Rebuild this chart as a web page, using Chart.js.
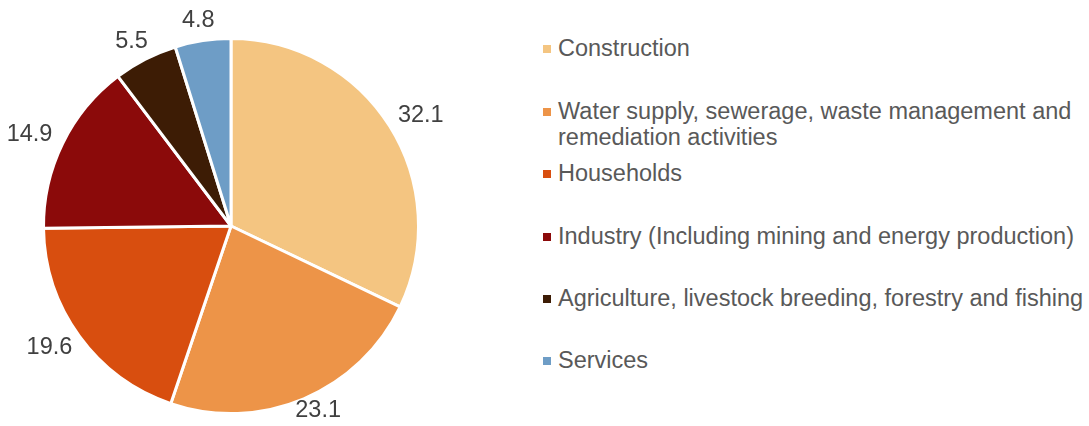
<!DOCTYPE html>
<html>
<head>
<meta charset="utf-8">
<script src="https://cdn.jsdelivr.net/npm/chart.js@4"></script>
<style>
  html, body { margin: 0; padding: 0; background: #fff; }
  #wrap { position: relative; width: 1089px; height: 426px; font-family: "Liberation Sans", Arial, sans-serif; }
  #pieBox { position: absolute; left: 0; top: 0; width: 462px; height: 426px; }
  #legend { position: absolute; left: 543px; top: 0; width: 546px; }
  .leg-item { position: absolute; left: 0; display: flex; align-items: flex-start; color: #595959; font-size: 23.5px; line-height: 26px; white-space: nowrap; }
  .leg-dot { width: 8px; height: 8px; margin-top: 10px; margin-right: 7px; flex: none; }
</style>
</head>
<body>
<div id="wrap">
  <div id="pieBox"><canvas id="pieCanvas" width="462" height="426"></canvas></div>
  <div id="legend"></div>
</div>
<script>
const SECTORS = [
  'Construction',
  'Water supply, sewerage, waste management and remediation activities',
  'Households',
  'Industry (Including mining and energy production)',
  'Agriculture, livestock breeding, forestry and fishing',
  'Services',
];
const LEGEND_LINES = [
  ['Construction'],
  ['Water supply, sewerage, waste management and', 'remediation activities'],
  ['Households'],
  ['Industry (Including mining and energy production)'],
  ['Agriculture, livestock breeding, forestry and fishing'],
  ['Services'],
];
const SHARES = [32.1, 23.1, 19.6, 14.9, 5.5, 4.8];
const COLORS = ['#F4C581', '#ED9448', '#D84E0F', '#8B0A0A', '#3D1C05', '#6E9DC6'];
const LEGEND_TOPS = [35, 98, 160, 223, 285, 347];

// value labels just outside the rim, like Excel's outside-end labels
const outsideLabels = {
  id: 'outsideLabels',
  afterDatasetsDraw(chart) {
    const { ctx } = chart;
    const meta = chart.getDatasetMeta(0);
    ctx.save();
    ctx.font = '23.5px "Liberation Sans", Arial, sans-serif';
    ctx.fillStyle = '#404040';
    ctx.textAlign = 'center';
    ctx.textBaseline = 'middle';
    meta.data.forEach((arc, i) => {
      const mid = (arc.startAngle + arc.endAngle) / 2;
      const txt = SHARES[i].toFixed(1);
      const w = ctx.measureText(txt).width;
      const h = 12;
      const r = arc.outerRadius + 14;
      const x = arc.x + Math.cos(mid) * r + Math.cos(mid) * w / 2;
      let y = arc.y + Math.sin(mid) * r + Math.sin(mid) * h / 2;
      y = Math.min(y, chart.height - 15);
      ctx.fillText(txt, x, y);
    });
    ctx.restore();
  },
};

new Chart(document.getElementById('pieCanvas'), {
  type: 'pie',
  data: {
    labels: SECTORS,
    datasets: [{
      data: SHARES,
      backgroundColor: COLORS,
      borderColor: '#ffffff',
      borderWidth: 3,
    }],
  },
  options: {
    responsive: false,
    animation: false,
    layout: { padding: { top: 37, bottom: 11, left: 42, right: 42 } },
    plugins: {
      legend: { display: false },
      tooltip: { enabled: false },
    },
  },
  plugins: [outsideLabels],
});

// custom legend to the right of the pie
const legendEl = document.getElementById('legend');
legendEl.innerHTML = LEGEND_LINES.map((lines, i) => `
  <div class="leg-item" style="top:${LEGEND_TOPS[i]}px">
    <span class="leg-dot" style="background:${COLORS[i]}"></span>
    <span>${lines.join('<br>')}</span>
  </div>`).join('');
</script>
</body>
</html>
